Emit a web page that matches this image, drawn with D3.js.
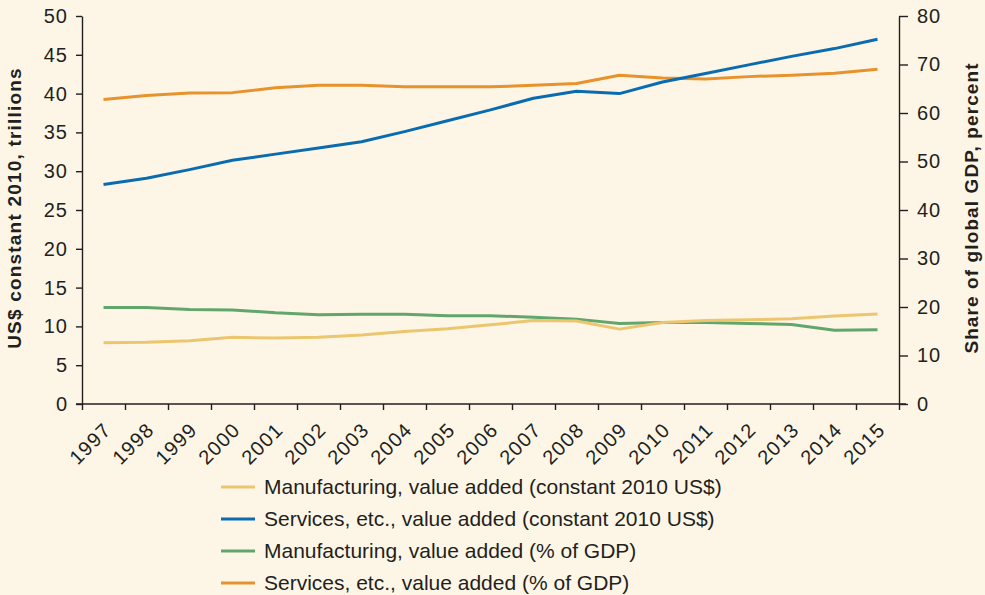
<!DOCTYPE html>
<html>
<head>
<meta charset="utf-8">
<script src="https://cdn.jsdelivr.net/npm/d3@7"></script>
<style>
  body { margin: 0; background: #fdf6e6; }
  svg { display: block; font-family: "Liberation Sans", Arial, sans-serif; }
</style>
</head>
<body>
<svg id="chart" width="985" height="595"></svg>
<script>
// data
const years = ["1997","1998","1999","2000","2001","2002","2003","2004","2005","2006",
  "2007","2008","2009","2010","2011","2012","2013","2014","2015"];

// left axis, US$ trillions
const manufUSD = [7.9, 7.95, 8.15, 8.6, 8.5, 8.6, 8.9, 9.35, 9.7, 10.2,
  10.75, 10.7, 9.65, 10.5, 10.75, 10.85, 11.0, 11.35, 11.6];
const servicesUSD = [28.3, 29.1, 30.2, 31.4, 32.2, 33.0, 33.8, 35.1, 36.5, 37.9,
  39.4, 40.3, 40.0, 41.5, 42.6, 43.7, 44.8, 45.8, 47.0];

// right axis, percent of GDP
const manufPct = [19.9, 19.9, 19.5, 19.4, 18.8, 18.4, 18.5, 18.5, 18.2, 18.2,
  17.9, 17.5, 16.6, 16.8, 16.8, 16.6, 16.4, 15.2, 15.3];
const servicesPct = [62.8, 63.6, 64.1, 64.2, 65.2, 65.7, 65.7, 65.4, 65.4, 65.4,
  65.7, 66.1, 67.8, 67.2, 67.0, 67.5, 67.8, 68.2, 69.0];

const leftTicks = [0,5,10,15,20,25,30,35,40,45,50];
const rightTicks = [0,10,20,30,40,50,60,70,80];

const legendNames = [
  "Manufacturing, value added (constant 2010 US$)",
  "Services, etc., value added (constant 2010 US$)",
  "Manufacturing, value added (% of GDP)",
  "Services, etc., value added (% of GDP)"
];

//settings
const colors = ["#ecc66f", "#0a6cb0", "#62a66c", "#e8922c"];
const inkColor = "#231f20";
const plotLeft = 82, plotRight = 899, plotTop = 16, plotBottom = 404;

const svg = d3.select("#chart");

const x = d3.scaleBand().domain(years).range([plotLeft, plotRight]);
const xEdges = d3.scaleLinear().domain([0, years.length]).range([plotLeft, plotRight]);
const yLeft = d3.scaleLinear().domain([0, 50]).range([plotBottom, plotTop]);
const yRight = d3.scaleLinear().domain([0, 80]).range([plotBottom, plotTop]);

// lines
const series = [
  {vals: manufUSD, y: yLeft, color: colors[0]},
  {vals: servicesUSD, y: yLeft, color: colors[1]},
  {vals: manufPct, y: yRight, color: colors[2]},
  {vals: servicesPct, y: yRight, color: colors[3]}
];
// draw order so the orange/blue sit on top like the original
[2, 0, 3, 1].forEach(function(i){
  const s = series[i];
  const line = d3.line()
    .x((d, j) => x(years[j]) + x.bandwidth() / 2)
    .y(d => s.y(d));
  svg.append("path").datum(s.vals)
    .attr("d", line)
    .attr("fill", "none")
    .attr("stroke", s.color)
    .attr("stroke-width", 3)
    .attr("stroke-linejoin", "round");
});

// x axis: tick marks at band edges
svg.append("g").attr("transform", "translate(0," + plotBottom + ")")
  .call(d3.axisBottom(xEdges).tickValues(d3.range(0, years.length + 1)).tickFormat("").tickSize(6).tickSizeOuter(0))
  .call(g => g.select(".domain").attr("d", "M" + (plotLeft - 6) + ",0H" + (plotRight + 7)));

// x labels at band centers
svg.append("g").attr("transform", "translate(0," + plotBottom + ")")
  .call(d3.axisBottom(x).tickSize(0).tickPadding(0))
  .call(g => g.select(".domain").remove())
  .call(g => g.selectAll("text")
    .attr("font-size", 20)
    .attr("letter-spacing", 1.2)
    .attr("fill", inkColor)
    .attr("text-anchor", "end")
    .attr("dy", 0)
    .attr("transform", "translate(9,27) rotate(-45)"));

// left axis
svg.append("g").attr("transform", "translate(" + plotLeft + ",0)")
  .call(d3.axisLeft(yLeft).tickValues(leftTicks).tickSize(6).tickPadding(8).tickSizeOuter(0))
  .call(g => g.selectAll("text").attr("font-size", 20).attr("letter-spacing", 1).attr("fill", inkColor));

// right axis
svg.append("g").attr("transform", "translate(" + plotRight + ",0)")
  .call(d3.axisRight(yRight).tickValues(rightTicks).tickSize(9).tickPadding(9).tickSizeOuter(0))
  .call(g => g.selectAll("text").attr("font-size", 20).attr("letter-spacing", 1).attr("fill", inkColor));

svg.selectAll(".domain, .tick line").attr("stroke", inkColor).attr("stroke-width", 1.4);

// axis titles
svg.append("text")
  .attr("transform", "translate(21,208) rotate(-90)")
  .attr("text-anchor", "middle")
  .attr("font-size", 19).attr("letter-spacing", 1.2)
  .attr("font-weight", "bold").attr("fill", inkColor)
  .text("US$ constant 2010, trillions");

svg.append("text")
  .attr("transform", "translate(978,208) rotate(-90)")
  .attr("text-anchor", "middle")
  .attr("font-size", 19).attr("letter-spacing", 1.1)
  .attr("font-weight", "bold").attr("fill", inkColor)
  .text("Share of global GDP, percent");

// legend
const legend = svg.append("g").attr("transform", "translate(221,487)");
const rows = legend.selectAll("g").data(legendNames).join("g")
  .attr("transform", (d, i) => "translate(0," + (i * 32) + ")");
rows.append("line")
  .attr("x1", 0).attr("x2", 34)
  .attr("stroke", (d, i) => colors[i]).attr("stroke-width", 3);
rows.append("text")
  .attr("x", 43).attr("dy", "0.35em")
  .attr("font-size", 21).attr("fill", inkColor)
  .text(d => d);
</script>
</body>
</html>
